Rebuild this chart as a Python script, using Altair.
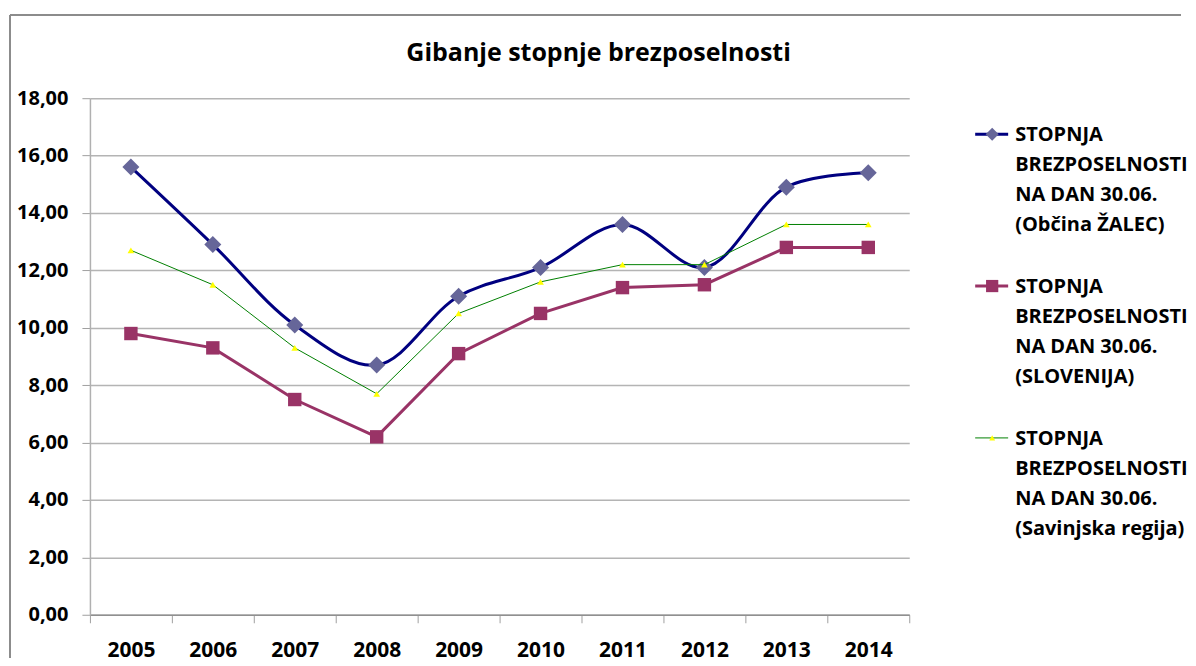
import altair as alt
import pandas as pd

years = ["2005", "2006", "2007", "2008", "2009", "2010", "2011", "2012", "2013", "2014"]
zalec = [15.6, 12.9, 10.1, 8.7, 11.1, 12.1, 13.6, 12.1, 14.9, 15.4]
slovenija = [9.8, 9.3, 7.5, 6.2, 9.1, 10.5, 11.4, 11.5, 12.8, 12.8]
savinjska = [12.7, 11.5, 9.3, 7.7, 10.5, 11.6, 12.2, 12.2, 13.6, 13.6]
y_ticks = [0, 2, 4, 6, 8, 10, 12, 14, 16, 18]
legend_labels = [
    "STOPNJA\nBREZPOSELNOSTI\nNA DAN 30.06.\n(Občina ŽALEC)",
    "STOPNJA\nBREZPOSELNOSTI\nNA DAN 30.06.\n(SLOVENIJA)",
    "STOPNJA\nBREZPOSELNOSTI\nNA DAN 30.06.\n(Savinjska regija)",
]
title_text = "Gibanje stopnje brezposelnosti"

FONT = "Open Sans"
W, H = 820, 517

line_colors = ["#000080", "#993366", "#008000"]
marker_fills = ["#666699", "#993366", "#FFFF00"]
marker_shapes = ["diamond", "square", "triangle-up"]
line_widths = [3, 3, 1]

df_z = pd.DataFrame({"year": years, "value": zalec})
df_s = pd.DataFrame({"year": years, "value": slovenija})
df_r = pd.DataFrame({"year": years, "value": savinjska})

x_enc = alt.X(
    "year:O",
    title=None,
    scale=alt.Scale(type="band", paddingInner=0, paddingOuter=0),
    axis=alt.Axis(
        tickBand="extent", labelAngle=0, labelFont=FONT, labelFontSize=21,
        labelFontWeight="bold", labelColor="black", labelPadding=17,
        tickSize=8, tickColor="#a0a0a0", domainColor="#909090", domainWidth=1.5,
        grid=False,
    ),
)
y_enc = alt.Y(
    "value:Q",
    title=None,
    scale=alt.Scale(domain=[0, 18], nice=False, zero=True),
    axis=alt.Axis(
        values=y_ticks, labelExpr="replace(format(datum.value, '.2f'), '.', ',')",
        labelFont=FONT, labelFontSize=20, labelFontWeight="bold", labelColor="black",
        labelPadding=14, tickSize=8, tickColor="#a0a0a0", domainColor="#b0b0b0",
        domainWidth=1.5, gridColor="#b4b4b4", gridWidth=1.5,
        minExtent=80, maxExtent=80,
    ),
)

line_z = alt.Chart(df_z).mark_line(color=line_colors[0], strokeWidth=3, interpolate="catmull-rom").encode(x=x_enc, y=y_enc)
pts_z = alt.Chart(df_z).mark_point(shape="diamond", filled=True, fill=marker_fills[0], opacity=1, size=290, strokeWidth=0).encode(x="year:O", y="value:Q")
line_s = alt.Chart(df_s).mark_line(color=line_colors[1], strokeWidth=3).encode(x="year:O", y="value:Q")
pts_s = alt.Chart(df_s).mark_point(shape="square", filled=True, fill=marker_fills[1], opacity=1, size=180, strokeWidth=0).encode(x="year:O", y="value:Q")
line_r = alt.Chart(df_r).mark_line(color=line_colors[2], strokeWidth=1).encode(x="year:O", y="value:Q")
pts_r = alt.Chart(df_r).mark_point(shape="triangle-up", filled=True, fill=marker_fills[2], opacity=1, size=45, strokeWidth=0).encode(x="year:O", y="value:Q")

# outer chart-area frame (top and left edges)
frame_top = alt.Chart(df_z).mark_rule(color="#8c8c8c", strokeWidth=1.5).encode(
    x=alt.value(-80), x2=alt.value(1092), y=alt.value(-83))
frame_left = alt.Chart(df_z).mark_rule(color="#8c8c8c", strokeWidth=1.5).encode(
    x=alt.value(-80), y=alt.value(-83), y2=alt.value(560))

main = alt.layer(line_z, pts_z, line_s, pts_s, line_r, pts_r, frame_top, frame_left).properties(width=W, height=H)

# legend panel
leg_df = pd.DataFrame({
    "idx": [0, 1, 2],
    "label": legend_labels,
    "lcolor": line_colors,
    "fcolor": marker_fills,
    "shape": marker_shapes,
    "lw": line_widths,
    "msize": [170, 150, 35],
})
leg_y = alt.Y("idx:Q", axis=None, scale=alt.Scale(domain=[-36 / 152, (H - 36) / 152], reverse=True, nice=False, zero=False))
leg_rule = alt.Chart(leg_df).mark_rule().encode(
    x=alt.value(6), x2=alt.value(39), y=leg_y,
    color=alt.Color("lcolor:N", scale=None), strokeWidth=alt.StrokeWidth("lw:Q", scale=None))
leg_pt = alt.Chart(leg_df).mark_point(filled=True, opacity=1, strokeWidth=0).encode(
    x=alt.value(23), y=leg_y,
    fill=alt.Fill("fcolor:N", scale=None), shape=alt.Shape("shape:N", scale=None),
    size=alt.Size("msize:Q", scale=None))
leg_text = alt.Chart(leg_df).mark_text(
    align="left", baseline="alphabetic", dy=7, lineBreak="\n", lineHeight=30,
    font=FONT, fontSize=20, fontWeight="bold", color="black").encode(
    x=alt.value(46), y=leg_y, text="label:N")
legend = alt.layer(leg_rule, leg_pt, leg_text).properties(width=200, height=H)

chart = alt.hconcat(main, legend, spacing=60, bounds="flush").properties(
    title=alt.TitleParams(title_text, font=FONT, fontSize=25, fontWeight="bold", color="black",
                          anchor="middle", offset=-52),
    padding={"left": 1, "top": 6, "right": 0, "bottom": 0},
).configure_view(stroke=None).configure_concat(spacing=60)

chart.save("out.html", embed_options={"renderer": "svg", "actions": False})
